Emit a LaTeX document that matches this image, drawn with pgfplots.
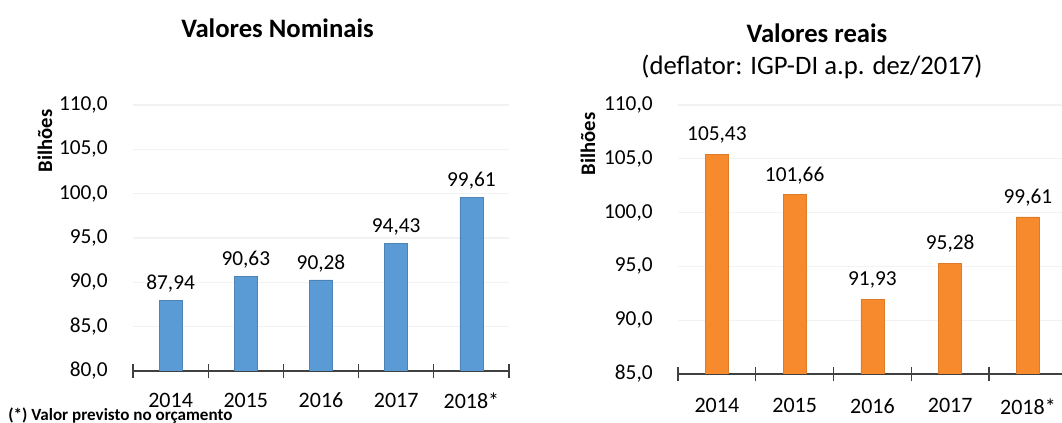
\documentclass[border=0pt]{standalone}
\usepackage{pgfplots}
\pgfplotsset{compat=1.18}
\usepackage{fontspec}
\setmainfont{Carlito}

\definecolor{barblue}{HTML}{5B9BD5}
\definecolor{barorange}{HTML}{F68A2C}
\definecolor{axisgray}{HTML}{404040}

\pgfplotsset{
  orcbar/.style={
    scale only axis,
    axis x line*=bottom, axis y line*=left,
    y axis line style={draw=none},
    x axis line style={axisgray, line width=1.1pt, -},
    xmin=-0.5, xmax=4.5,
    % tick marks between the categories, names under the bars
    xtick={-0.5,0.5,...,4.5},
    xticklabels={},
    extra x ticks={0,1,2,3,4},
    extra x tick labels={2014,2015,2016,2017,2018*},
    extra x tick style={major tick length=0pt,
      xticklabel style={font=\fontsize{16.5}{19}\selectfont, yshift=-13pt}},
    major x tick style={axisgray, line width=0.9pt},
    major tick length=11pt,
    ytick style={draw=none},
    ymajorgrids, grid style={black!5, line width=1pt},
    yticklabel style={font=\fontsize{16}{19}\selectfont, xshift=-10pt},
    yticklabel={\pgfmathprintnumber[use comma,fixed,fixed zerofill,precision=1,assume math mode=true]{\tick}},
    ybar, bar width=17.25pt, bar shift=0pt,
    nodes near coords={\pgfmathprintnumber[use comma,fixed,fixed zerofill,precision=2,assume math mode=true]{\pgfplotspointmeta}},
    nodes near coords style={font=\fontsize{16}{19}\selectfont, yshift=2.5pt},
    tick align=center,
  }
}

\begin{document}
\begin{tikzpicture}

% nominal values
\begin{axis}[orcbar,
  at={(99.75pt,39pt)}, anchor=south west,
  width=282pt, height=199.5pt,
  ymin=80, ymax=110, ytick={80,85,...,110}]
\addplot[fill=barblue, draw=barblue!85!black] coordinates {(0,87.94) (1,90.63) (2,90.28) (3,94.43) (4,99.61)};
\end{axis}

% real values
\begin{axis}[orcbar,
  at={(508.5pt,36.75pt)}, anchor=south west,
  width=291.6pt, height=201.75pt,
  ymin=85, ymax=110, ytick={85,90,...,110},
  extra x tick style={xticklabel style={yshift=-2pt}},
  nodes near coords style={yshift=2pt}]
\addplot[fill=barorange, draw=barorange!90!black] coordinates {(0,105.43) (1,101.66) (2,91.93) (3,95.28) (4,99.61)};
\end{axis}

\node[anchor=base, font=\bfseries\fontsize{20}{24}\selectfont] at (208.1pt,288.75pt) {Valores Nominais};
\node[anchor=base, font=\bfseries\fontsize{20}{24}\selectfont] at (612.75pt,285pt) {Valores reais};
\node[anchor=base, font=\fontsize{20}{24}\selectfont] at (609pt,261pt) {(deflator: IGP-DI a.p. dez/2017)};
\node[rotate=90, font=\bfseries\fontsize{15.5}{18}\selectfont] at (33.75pt,211.5pt) {Bilhões};
\node[rotate=90, font=\bfseries\fontsize{15.5}{18}\selectfont] at (441pt,209.25pt) {Bilhões};
\node[anchor=base west, inner sep=0pt, font=\bfseries\fontsize{12.8}{15}\selectfont] at (6pt,1.9pt) {(*) Valor previsto no orçamento};

\pgfresetboundingbox
\useasboundingbox (0,0) rectangle (796.5pt,317.25pt);
\end{tikzpicture}
\end{document}
